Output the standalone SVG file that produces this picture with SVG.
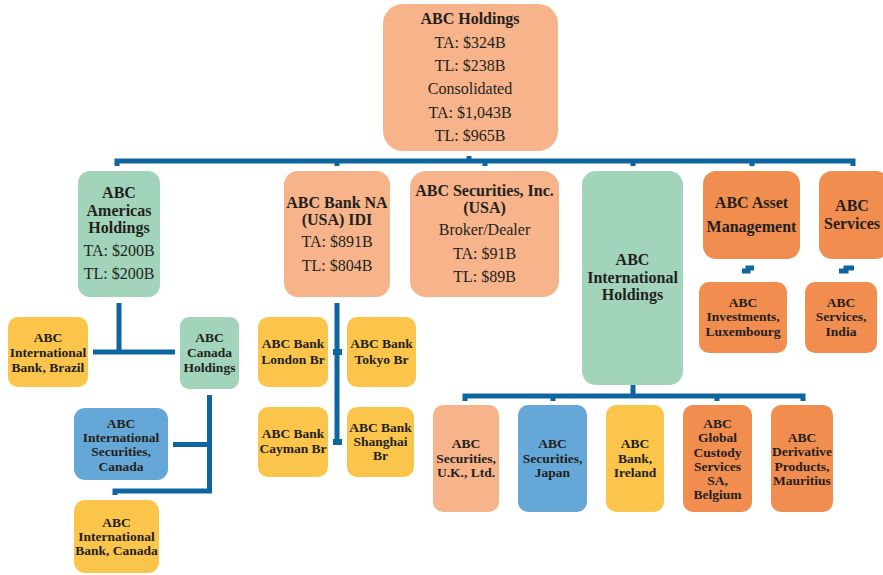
<svg xmlns="http://www.w3.org/2000/svg" width="883" height="575" viewBox="0 0 883 575">
<style>
text{font-family:"Liberation Serif","DejaVu Serif",serif;fill:#231F20;text-anchor:middle}
.b{font-weight:bold;font-size:16px}
.r{font-size:16px}
.s{font-weight:bold;font-size:13.5px}
.peach{fill:#F7B48A}
.green{fill:#A1D4BA}
.yellow{fill:#FBC54C}
.blue{fill:#65A7D7}
.orange{fill:#F18D4E}
.c{fill:none;stroke:#0E66A1;stroke-width:5}
.n{fill:#0E66A1}
</style>
<rect width="883" height="575" fill="#fff"/>
<g id="connectors">
<path class="c" d="M117 166 V161 H853 V166"/>
<path class="c" d="M337 161 V166 M485 161 V166 M633 161 V166 M752 161 V166 M469 161 V156"/>
<path class="c" d="M119 303 V352 M93 352 H175"/>
<path class="c" d="M209.5 395 V491 H115 V495 M173 444.5 H209.5"/>
<path class="c" d="M337 303 V443"/>
<rect class="n" x="333" y="349" width="9" height="6"/>
<rect class="n" x="333" y="439" width="9" height="6"/>
<path class="c" d="M742 271 H748 V268 H754"/>
<path class="c" d="M839 271 H846 V268 H854"/>
<path class="c" d="M465 401 V396 H803 V401 M553 396 V401 M717 396 V401 M633 385 V396"/>
</g>
<g id="abc-holdings">
<rect class="peach" x="383" y="4" width="175" height="147" rx="20"/>
<text class="b" x="470" y="24">ABC Holdings</text>
<text class="r" x="470" y="48">TA: $324B</text>
<text class="r" x="470" y="71">TL: $238B</text>
<text class="r" x="470" y="94">Consolidated</text>
<text class="r" x="470" y="118">TA: $1,043B</text>
<text class="r" x="470" y="141">TL: $965B</text>
</g>
<g id="americas">
<rect class="green" x="78" y="171" width="82" height="126" rx="12"/>
<text class="b" x="119" y="198">ABC</text>
<text class="b" x="119" y="216">Americas</text>
<text class="b" x="119" y="233">Holdings</text>
<text class="r" x="119" y="256">TA: $200B</text>
<text class="r" x="119" y="279">TL: $200B</text>
</g>
<g id="bank-na">
<rect class="peach" x="284" y="171" width="106" height="126" rx="14"/>
<text class="b" x="337" y="208">ABC Bank NA</text>
<text class="b" x="337" y="225">(USA) IDI</text>
<text class="r" x="337" y="247">TA: $891B</text>
<text class="r" x="337" y="271">TL: $804B</text>
</g>
<g id="securities-inc">
<rect class="peach" x="410" y="171" width="149" height="126" rx="16"/>
<text class="b" x="484.5" y="196">ABC Securities, Inc.</text>
<text class="b" x="484.5" y="213">(USA)</text>
<text class="r" x="484.5" y="235">Broker/Dealer</text>
<text class="r" x="484.5" y="259">TA: $91B</text>
<text class="r" x="484.5" y="282">TL: $89B</text>
</g>
<g id="intl-holdings">
<rect class="green" x="582" y="171" width="101" height="214" rx="14"/>
<text class="b" x="632.5" y="265">ABC</text>
<text class="b" x="632.5" y="283">International</text>
<text class="b" x="632.5" y="300">Holdings</text>
</g>
<g id="asset-mgmt">
<rect class="orange" x="703" y="171" width="97" height="88" rx="13"/>
<text class="b" x="751.5" y="208">ABC Asset</text>
<text class="b" x="751.5" y="232">Management</text>
</g>
<g id="services">
<rect class="orange" x="819" y="171" width="70" height="88" rx="13"/>
<text class="b" x="852" y="211">ABC</text>
<text class="b" x="852" y="229">Services</text>
</g>
<g id="luxembourg">
<rect class="orange" x="699" y="282" width="88" height="71" rx="10"/>
<text class="s" x="743" y="307">ABC</text>
<text class="s" x="743" y="321">Investments,</text>
<text class="s" x="743" y="336">Luxembourg</text>
</g>
<g id="india">
<rect class="orange" x="805" y="282" width="72" height="71" rx="10"/>
<text class="s" x="841" y="307">ABC</text>
<text class="s" x="841" y="321">Services,</text>
<text class="s" x="841" y="336">India</text>
</g>
<g id="brazil">
<rect class="yellow" x="8" y="317" width="80" height="70" rx="10"/>
<text class="s" x="48" y="342">ABC</text>
<text class="s" x="48" y="357">International</text>
<text class="s" x="48" y="372">Bank, Brazil</text>
</g>
<g id="canada-holdings">
<rect class="green" x="180" y="317" width="59" height="72" rx="9"/>
<text class="s" x="209.5" y="342">ABC</text>
<text class="s" x="209.5" y="357">Canada</text>
<text class="s" x="209.5" y="372">Holdings</text>
</g>
<g id="intl-securities-canada">
<rect class="blue" x="74" y="408" width="94" height="72" rx="11"/>
<text class="s" x="121" y="428">ABC</text>
<text class="s" x="121" y="442">International</text>
<text class="s" x="121" y="456">Securities,</text>
<text class="s" x="121" y="471">Canada</text>
</g>
<g id="intl-bank-canada">
<rect class="yellow" x="74" y="500" width="85" height="73" rx="11"/>
<text class="s" x="116.5" y="527">ABC</text>
<text class="s" x="116.5" y="541">International</text>
<text class="s" x="116.5" y="555">Bank, Canada</text>
</g>
<g id="london">
<rect class="yellow" x="258" y="317" width="70" height="70" rx="10"/>
<text class="s" x="293" y="348">ABC Bank</text>
<text class="s" x="293" y="364">London Br</text>
</g>
<g id="tokyo">
<rect class="yellow" x="347" y="317" width="69" height="70" rx="10"/>
<text class="s" x="381.5" y="348">ABC Bank</text>
<text class="s" x="381.5" y="364">Tokyo Br</text>
</g>
<g id="cayman">
<rect class="yellow" x="258" y="407" width="70" height="70" rx="10"/>
<text class="s" x="293" y="438">ABC Bank</text>
<text class="s" x="293" y="453">Cayman Br</text>
</g>
<g id="shanghai">
<rect class="yellow" x="347" y="407" width="67" height="70" rx="10"/>
<text class="s" x="380.5" y="432">ABC Bank</text>
<text class="s" x="380.5" y="446">Shanghai</text>
<text class="s" x="380.5" y="460">Br</text>
</g>
<g id="securities-uk">
<rect class="peach" x="433" y="405" width="66" height="107" rx="10"/>
<text class="s" x="466" y="448">ABC</text>
<text class="s" x="466" y="463">Securities,</text>
<text class="s" x="466" y="477">U.K., Ltd.</text>
</g>
<g id="securities-japan">
<rect class="blue" x="518" y="405" width="69" height="107" rx="10"/>
<text class="s" x="552.5" y="448">ABC</text>
<text class="s" x="552.5" y="463">Securities,</text>
<text class="s" x="552.5" y="477">Japan</text>
</g>
<g id="bank-ireland">
<rect class="yellow" x="606" y="405" width="58" height="107" rx="10"/>
<text class="s" x="635" y="448">ABC</text>
<text class="s" x="635" y="463">Bank,</text>
<text class="s" x="635" y="477">Ireland</text>
</g>
<g id="custody-belgium">
<rect class="orange" x="683" y="405" width="69" height="107" rx="10"/>
<text class="s" x="717.5" y="428">ABC</text>
<text class="s" x="717.5" y="442">Global</text>
<text class="s" x="717.5" y="456.5">Custody</text>
<text class="s" x="717.5" y="471">Services</text>
<text class="s" x="717.5" y="485">SA,</text>
<text class="s" x="717.5" y="499">Belgium</text>
</g>
<g id="derivative-mauritius">
<rect class="orange" x="771" y="405" width="62" height="107" rx="10"/>
<text class="s" x="802" y="442">ABC</text>
<text class="s" x="802" y="456">Derivative</text>
<text class="s" x="802" y="471">Products,</text>
<text class="s" x="802" y="485">Mauritius</text>
</g>
</svg>
